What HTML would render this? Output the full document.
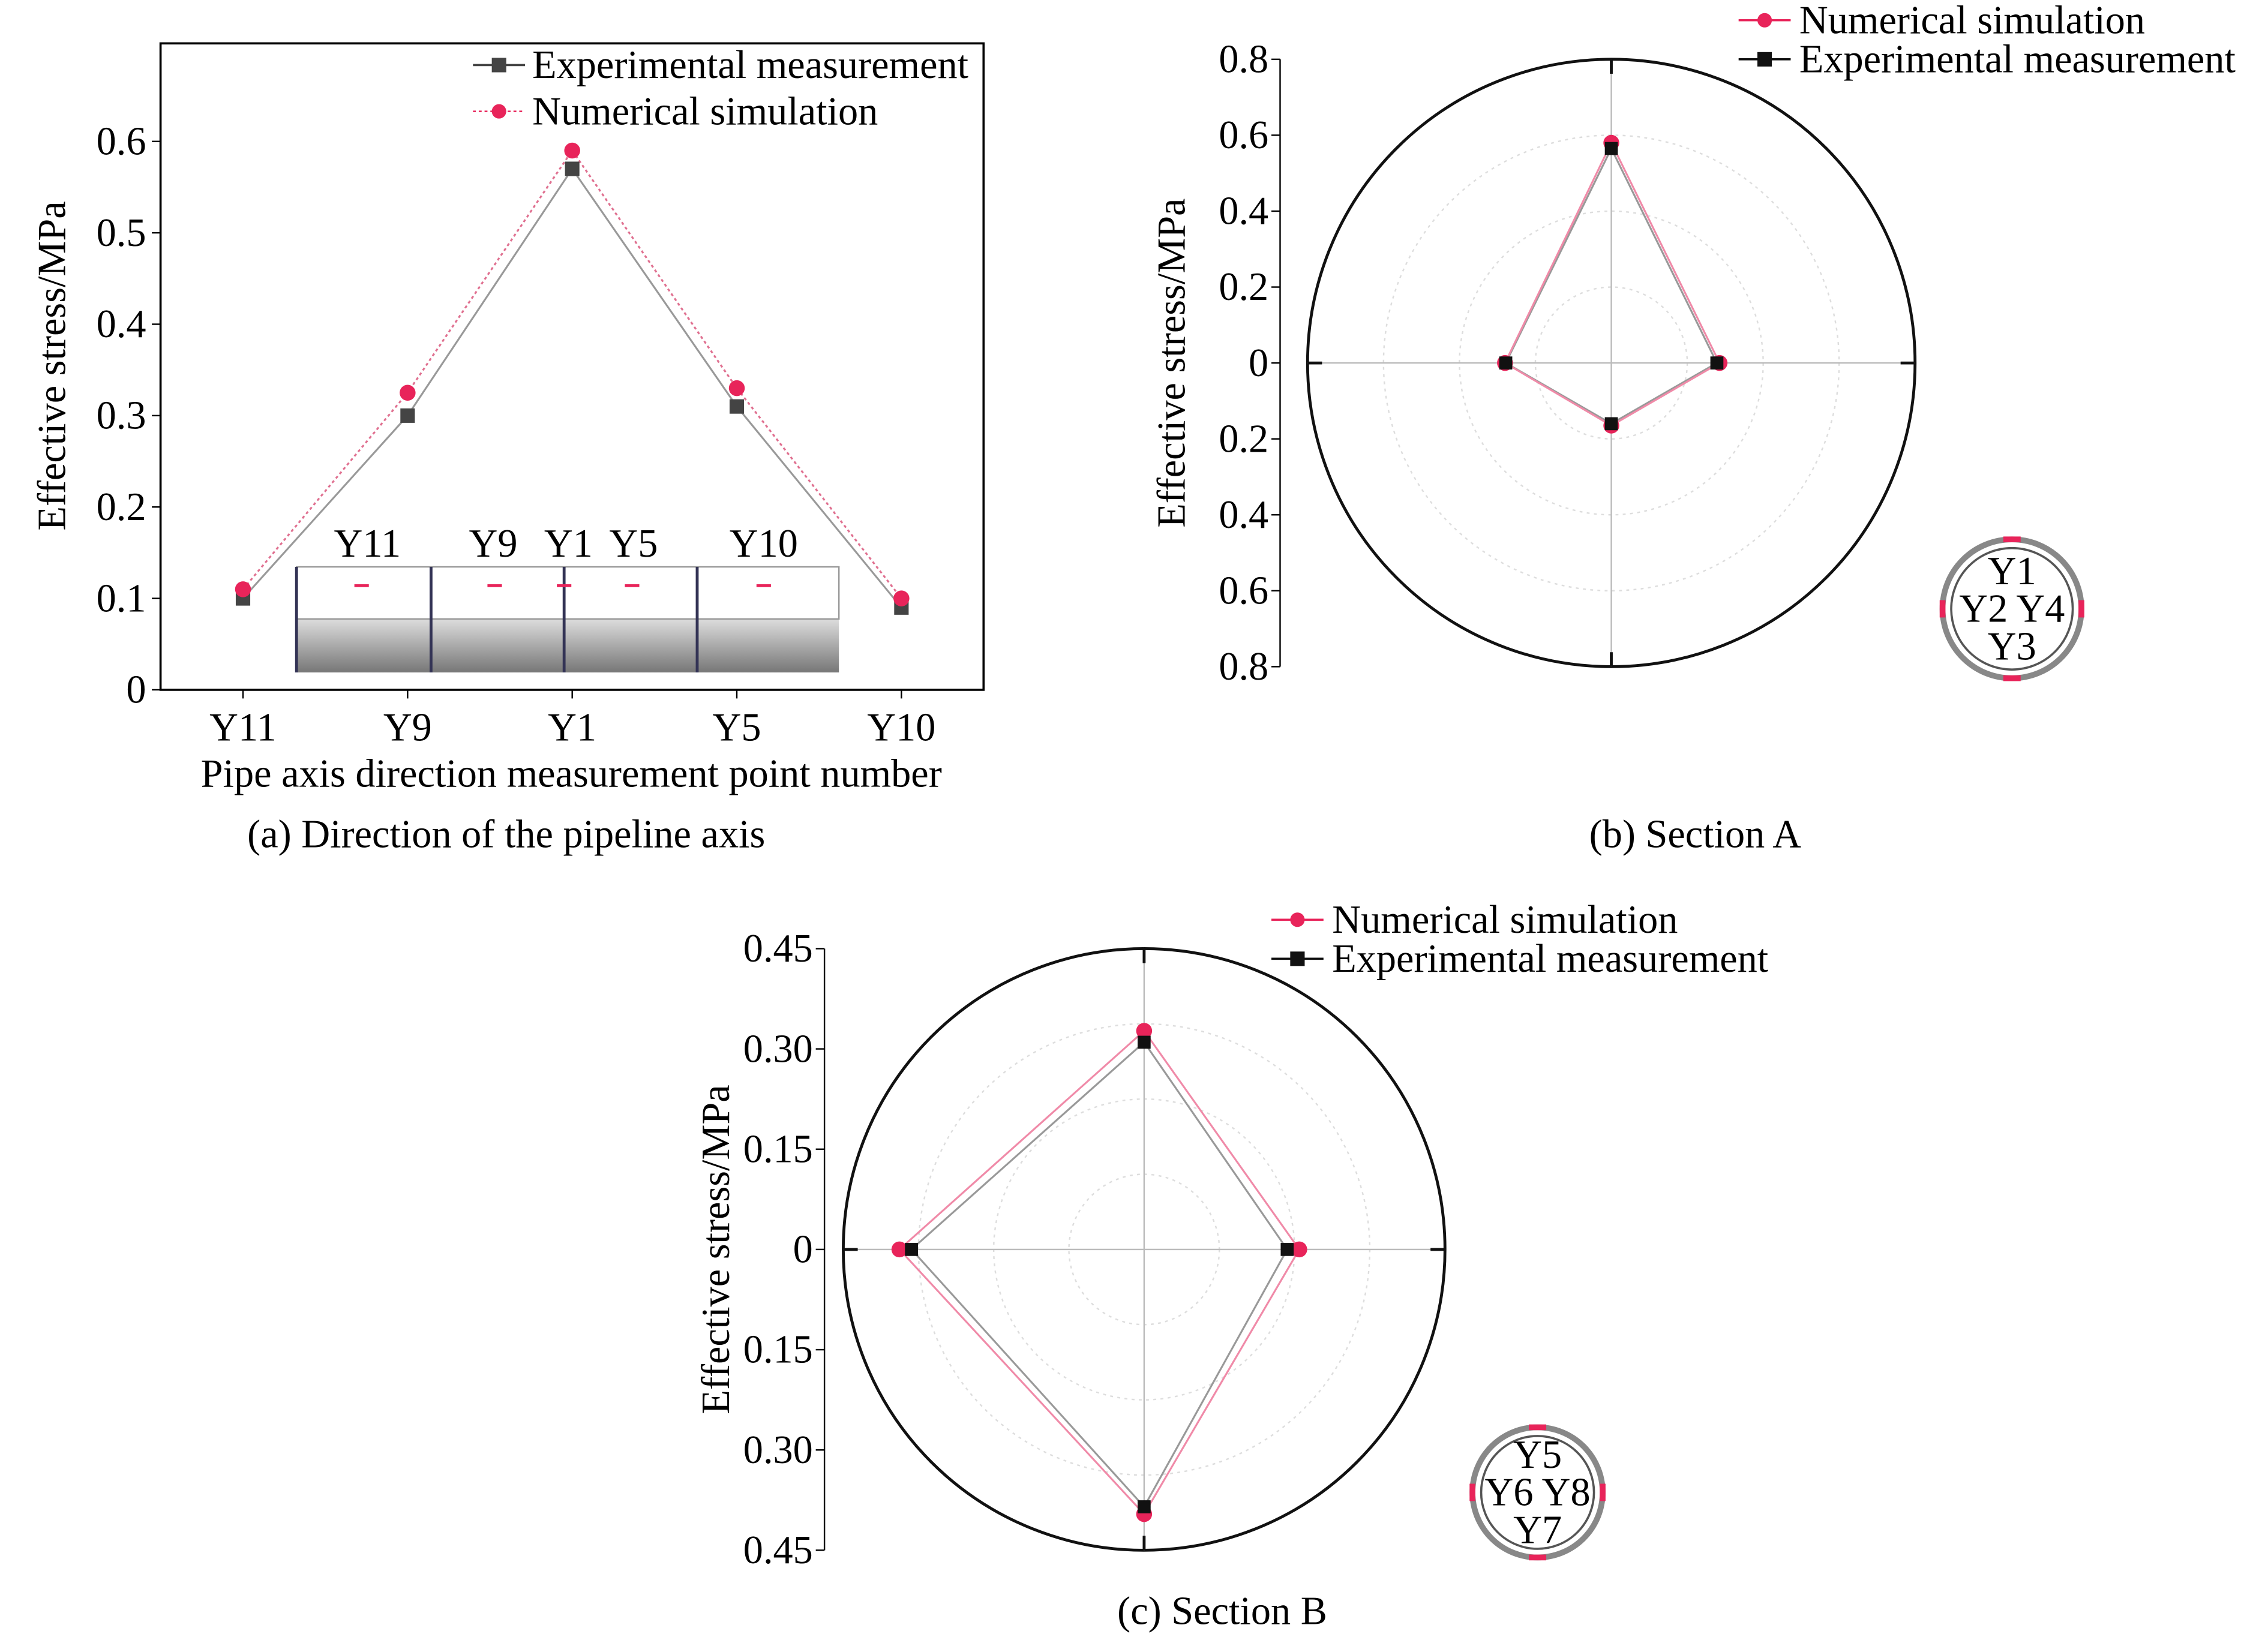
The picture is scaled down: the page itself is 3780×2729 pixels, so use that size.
<!DOCTYPE html>
<html><head><meta charset="utf-8"><style>
html,body{margin:0;padding:0;background:#fff}
svg{display:block;font-family:"Liberation Serif",serif}
</style></head><body>
<svg id="fig" width="3780" height="2729" viewBox="0 0 1568 1132" preserveAspectRatio="none" xmlns="http://www.w3.org/2000/svg">
<rect width="1568" height="1132" fill="#fff"/>
<g id="ga"></g>
<g id="gb"></g>
<g id="gc"></g>
</svg>
<script>
// Chart (a) data
const aCategories = ["Y11","Y9","Y1","Y5","Y10"];
const aExperimental = [0.10,0.30,0.57,0.31,0.09];
const aNumerical = [0.11,0.325,0.59,0.33,0.10];
const aTicks = [0,0.1,0.2,0.3,0.4,0.5,0.6];
// Chart (b) data: top, right, bottom, left
const bPoints = ["Y1","Y4","Y3","Y2"];
const bExperimental = [0.565,0.278,0.16,0.278];
const bNumerical = [0.58,0.285,0.165,0.28];
const bTicks = ["0.8","0.6","0.4","0.2","0","0.2","0.4","0.6","0.8"];
const bMax = 0.8;
// Chart (c) data
const cPoints = ["Y5","Y8","Y7","Y6"];
const cExperimental = [0.31,0.214,0.385,0.348];
const cNumerical = [0.327,0.232,0.396,0.366];
const cTicks = ["0.45","0.30","0.15","0","0.15","0.30","0.45"];
const cMax = 0.45;

const FS=27.5;
const NS="http://www.w3.org/2000/svg";
function mk(parent,tag,attrs,text){const e=document.createElementNS(NS,tag);for(const k in attrs)e.setAttribute(k,attrs[k]);if(text!==undefined)e.textContent=text;parent.appendChild(e);return e;}
const RED="#e8245a", GREY="#444";

// ---------- Chart A ----------
const ga=document.getElementById('ga');
const ax0=111,ax1=680,ay0=477,ayTop=30;
const ay=v=>ay0-v/0.1*63.2;
const axPos=i=>168+i*113.8;
let e=mk(ga,'rect',{x:ax0,y:ayTop,width:ax1-ax0,height:ay0-ayTop,fill:'none',stroke:'#000','stroke-width':1.5});

aTicks.forEach(t=>{mk(ga,'line',{x1:ax0,x2:ax0-6,y1:ay(t),y2:ay(t),stroke:'#000'});
 e=mk(ga,'text',{x:101,y:ay(t)+9,'text-anchor':'end','font-size':FS},t===0?'0':String(t));
 });
aCategories.forEach((c,i)=>{mk(ga,'line',{x1:axPos(i),x2:axPos(i),y1:ay0,y2:ay0+6,stroke:'#000'});
 e=mk(ga,'text',{x:axPos(i),y:512,'text-anchor':'middle','font-size':FS},c);
 });
e=mk(ga,'text',{x:395,y:544,'text-anchor':'middle','font-size':FS},'Pipe axis direction measurement point number');

e=mk(ga,'text',{x:0,y:0,'text-anchor':'middle','font-size':FS,transform:'translate(45,253) rotate(-90)'},'Effective stress/MPa');

// pipe inset
const pipe=mk(ga,'g',{});
mk(pipe,'defs',{}).innerHTML='<linearGradient id="pg" x1="0" y1="0" x2="0" y2="1"><stop offset="0" stop-color="#ddd"/><stop offset="0.5" stop-color="#aaa"/><stop offset="1" stop-color="#777"/></linearGradient>';
mk(pipe,'rect',{x:205,y:428,width:375,height:37,fill:'url(#pg)'});
mk(pipe,'rect',{x:205,y:392,width:375,height:36,fill:'#fff',stroke:'#999'});
[205,298,390,482].forEach(x=>mk(pipe,'line',{x1:x,x2:x,y1:392,y2:465,stroke:'#335','stroke-width':2}));
[[254,'Y11'],[341,'Y9'],[393,'Y1'],[438,'Y5'],[528,'Y10']].forEach(p=>{mk(pipe,'text',{x:p[0],y:385,'text-anchor':'middle','font-size':FS},p[1]);});
[250,342,390,437,528].forEach(x=>mk(pipe,'line',{x1:x-5,x2:x+5,y1:405,y2:405,stroke:RED,'stroke-width':2}));
// series
function line(g,pts,color,dash,name){e=mk(g,'polyline',{points:pts.map(p=>p.join(',')).join(' '),fill:'none',stroke:color,'stroke-width':1.3,'stroke-dasharray':dash||'none'});
 }
line(ga,aExperimental.map((v,i)=>[axPos(i),ay(v)]),'#999','', 'line-experimental');
line(ga,aNumerical.map((v,i)=>[axPos(i),ay(v)]),'#e07090','2,2','line-numerical');
aExperimental.forEach((v,i)=>{e=mk(ga,'rect',{x:axPos(i)-5,y:ay(v)-5,width:10,height:10,fill:GREY});
 });
aNumerical.forEach((v,i)=>{e=mk(ga,'circle',{cx:axPos(i),cy:ay(v),r:5.5,fill:RED});
 });
// legend a
let lg=mk(ga,'g',{});
mk(lg,'line',{x1:327,x2:363,y1:45,y2:45,stroke:GREY,'stroke-width':1.5});mk(lg,'rect',{x:340,y:40,width:10,height:10,fill:GREY});
mk(lg,'text',{x:368,y:54,'font-size':FS},'Experimental measurement');
mk(lg,'line',{x1:327,x2:363,y1:77,y2:77,stroke:RED,'stroke-width':1,'stroke-dasharray':'2,2'});mk(lg,'circle',{cx:345,cy:77,r:5,fill:RED});
mk(lg,'text',{x:368,y:86,'font-size':FS},'Numerical simulation');
e=mk(ga,'text',{x:350,y:586,'text-anchor':'middle','font-size':FS},'(a) Direction of the pipeline axis');


// ---------- Polar charts ----------
function polar(g,cx,cy,R,axisX,ticks,max,exp,num,legX,legY,insetX,insetY,insetR,labels,caption,capX,capY,id){
 const sc=R/max;
 [0.25,0.5,0.75].forEach(f=>mk(g,'circle',{cx,cy,r:R*f,fill:'none',stroke:'#ddd','stroke-dasharray':'2,3'}));
 e=mk(g,'circle',{cx,cy,r:R,fill:'none',stroke:'#111','stroke-width':2});
 
 mk(g,'line',{x1:cx-R,x2:cx+R,y1:cy,y2:cy,stroke:'#bbb'});
 mk(g,'line',{x1:cx,x2:cx,y1:cy-R,y2:cy+R,stroke:'#bbb'});
 [[cx-R,cy,cx-R+10,cy],[cx+R,cy,cx+R-10,cy],[cx,cy-R,cx,cy-R+10],[cx,cy+R,cx,cy+R-10]].forEach(l=>mk(g,'line',{x1:l[0],y1:l[1],x2:l[2],y2:l[3],stroke:'#111','stroke-width':2}));
 mk(g,'line',{x1:axisX,x2:axisX,y1:cy-R,y2:cy+R,stroke:'#000'});
 ticks.forEach((t,i)=>{const y=cy-R+i*(2*R/(ticks.length-1));
  mk(g,'line',{x1:axisX,x2:axisX-6,y1:y,y2:y,stroke:'#000'});
  e=mk(g,'text',{x:axisX-8,y:y+9,'text-anchor':'end','font-size':FS},t);
  });
 e=mk(g,'text',{x:0,y:0,'text-anchor':'middle','font-size':FS,transform:`translate(${axisX-66},${cy}) rotate(-90)`},'Effective stress/MPa');
 
 const dirs=[[0,-1],[1,0],[0,1],[-1,0]];
 const pts=arr=>arr.map((v,i)=>[cx+dirs[i][0]*v*sc,cy+dirs[i][1]*v*sc]);
 const pe=pts(exp),pn=pts(num);
 e=mk(g,'polygon',{points:pe.map(p=>p.join(',')).join(' '),fill:'none',stroke:'#999','stroke-width':1.3});
 
 e=mk(g,'polygon',{points:pn.map(p=>p.join(',')).join(' '),fill:'none',stroke:'#f08aa8','stroke-width':1.3});
 
 pn.forEach(p=>{e=mk(g,'circle',{cx:p[0],cy:p[1],r:5.5,fill:RED});
  });
 pe.forEach(p=>{e=mk(g,'rect',{x:p[0]-4.5,y:p[1]-4.5,width:9,height:9,fill:'#111'});
  });
 const L=mk(g,'g',{});
 mk(L,'line',{x1:legX,x2:legX+36,y1:legY,y2:legY,stroke:RED,'stroke-width':1.5});mk(L,'circle',{cx:legX+18,cy:legY,r:5,fill:RED});
 mk(L,'text',{x:legX+42,y:legY+9,'font-size':FS},'Numerical simulation');
 mk(L,'line',{x1:legX,x2:legX+36,y1:legY+27,y2:legY+27,stroke:'#111','stroke-width':1.5});mk(L,'rect',{x:legX+13,y:legY+22,width:10,height:10,fill:'#111'});
 mk(L,'text',{x:legX+42,y:legY+36,'font-size':FS},'Experimental measurement');
 const I=mk(g,'g',{});
 mk(I,'circle',{cx:insetX,cy:insetY,r:insetR,fill:'none',stroke:'#888','stroke-width':4});
 mk(I,'circle',{cx:insetX,cy:insetY,r:insetR-6,fill:'none',stroke:'#555','stroke-width':1.5});
 mk(I,'rect',{x:insetX-6,y:insetY-insetR-2,width:12,height:4,fill:RED});
 mk(I,'rect',{x:insetX-6,y:insetY+insetR-2,width:12,height:4,fill:RED});
 mk(I,'rect',{x:insetX-insetR-2,y:insetY-6,width:4,height:12,fill:RED});
 mk(I,'rect',{x:insetX+insetR-2,y:insetY-6,width:4,height:12,fill:RED});
 mk(I,'text',{x:insetX,y:insetY-17,'text-anchor':'middle','font-size':FS},labels[0]);
 mk(I,'text',{x:insetX,y:insetY+9,'text-anchor':'middle','font-size':FS},labels[3]+' '+labels[1]);
 mk(I,'text',{x:insetX,y:insetY+35,'text-anchor':'middle','font-size':FS},labels[2]);
 e=mk(g,'text',{x:capX,y:capY,'text-anchor':'middle','font-size':FS},caption);
 
}
polar(document.getElementById('gb'),1114,251,210,885,bTicks,bMax,bExperimental,bNumerical,1202,14,1391,421,48,bPoints,'(b) Section A',1172,586,'b');
polar(document.getElementById('gc'),791,864,208,570,cTicks,cMax,cExperimental,cNumerical,879,636,1063,1032,45,cPoints,'(c) Section B',845,1123,'c');
</script>
</body></html>
